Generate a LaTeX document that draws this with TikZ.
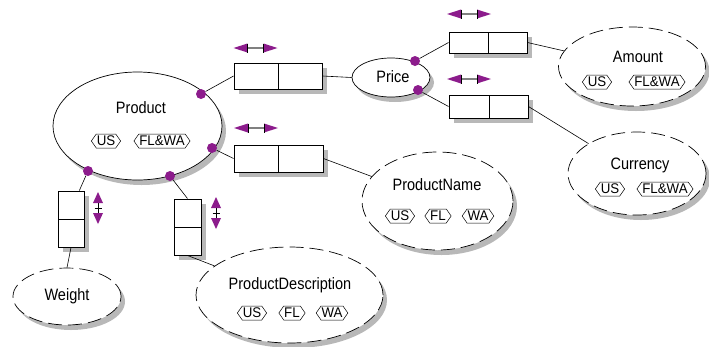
\documentclass[tikz,border=0pt]{standalone}
\usepackage{fontspec}
\setmainfont{Liberation Sans}
\newfontfamily\lblfont[FakeStretch=0.88]{Liberation Sans}
\newfontfamily\tagfont[FakeStretch=0.95]{Liberation Sans}
\usetikzlibrary{shapes.geometric,shapes.symbols}
\definecolor{pmag}{RGB}{140,28,140}
\colorlet{shgray}{black!28}
\tikzset{
  ent/.style={ellipse, draw, fill=white, line width=0.7pt, inner sep=0pt},
  attr/.style={ent, dash pattern=on 14pt off 6pt},
  cell/.style={rectangle, draw, fill=white, line width=0.9pt, inner sep=0pt},
  tag/.style={signal, signal to=west and east, signal pointer angle=110, draw,
    line width=0.5pt, inner sep=0.5pt, minimum height=14pt,
    font=\tagfont\fontsize{14pt}{14pt}\selectfont},
  lbl/.style={inner sep=0pt, font=\lblfont\fontsize{16.5pt}{16.5pt}\selectfont},
  dot/.style={circle, fill=pmag, inner sep=0pt, minimum size=10pt},
  link/.style={line width=0.6pt},
  hmove/.pic={
    \draw[line width=1.2pt, gray] (-8,0) -- (8,0);
    \fill[pmag] (-22,0) -- (-8,-4.5) -- (-8,4.5) -- cycle;
    \fill[pmag] (22,0) -- (8,-4.5) -- (8,4.5) -- cycle;
    \draw[line width=0.6pt] (-8,-4.5) -- (-8,4.5) (8,-4.5) -- (8,4.5);
  },
  vmove/.pic={
    \draw[line width=0.6pt] (0,-6) -- (0,6) (-3.5,0) -- (3.5,0);
    \fill[pmag] (0,-16) -- (-5,-5) -- (5,-5) -- cycle;
    \fill[pmag] (0,16) -- (-5,5) -- (5,5) -- cycle;
  },
}
% an oval with its grey offset shadow: #1 name, #2 style, #3 width, #4 height, #5 x, #6 y
\newcommand\ovalnode[6]{%
  \fill[shgray] (#5+4,#6+5) ellipse [x radius=#3/2*1pt, y radius=#4/2*1pt];
  \node[#2, minimum width=#3pt, minimum height=#4pt] (#1) at (#5,#6) {};}
% the grey shadow under a row of cells: #1 width, #2 height, #3 x, #4 y
\newcommand\cellshadow[4]{%
  \fill[shgray] (#3-#1/2+5,#4-#2/2+5) rectangle (#3+#1/2+5,#4+#2/2+5);}
\newcommand\cellbox[5]{%
  \node[cell, minimum width=#2pt, minimum height=#3pt] (#1) at (#4,#5) {};}
\begin{document}
\begin{tikzpicture}[x=1pt, y=-1pt]
\useasboundingbox (0,0) rectangle (709,346);

% entities and attributes
\ovalnode{prod}{ent}{169}{108}{137.5}{126}
\node[lbl] (prodt) at (141,108) {Product};
\node[tag] (produs) at (106,141) {US};
\node[tag] (prodfw) at (162,141) {FL\&WA};

\ovalnode{price}{ent}{78}{39}{391}{77.5}
\node[lbl] (pricet) at (393,77) {Price};

\ovalnode{amount}{attr}{147}{79}{632}{66.5}
\node[lbl] (amountt) at (638,57) {Amount};
\node[tag] (amountus) at (597,82) {US};
\node[tag] (amountfw) at (657,82) {FL\&WA};

\ovalnode{curr}{attr}{138}{83}{637}{173.5}
\node[lbl] (currt) at (640,165) {Currency};
\node[tag] (currus) at (610,189) {US};
\node[tag] (currfw) at (665,189) {FL\&WA};

\ovalnode{pname}{attr}{151}{98}{437.5}{201}
\node[lbl] (pnamet) at (437,185) {ProductName};
\node[tag] (pnameus) at (400,216) {US};
\node[tag] (pnamefl) at (438,216) {FL};
\node[tag] (pnamewa) at (478,216) {WA};

\ovalnode{pdesc}{attr}{187}{96}{289.5}{295}
\node[lbl] (pdesct) at (290,285) {ProductDescription};
\node[tag] (pdescus) at (252,313) {US};
\node[tag] (pdescfl) at (292,313) {FL};
\node[tag] (pdescwa) at (332,313) {WA};

\ovalnode{weight}{attr}{108}{57}{67}{296.5}
\node[lbl] (weightt) at (67,296) {Weight};

% relationship cells: shadows first, then the cells
\cellshadow{88}{26}{278}{76}
\cellshadow{78}{21}{488}{42.5}
\cellshadow{79}{23}{488.5}{106.5}
\cellshadow{89}{27}{278.5}{158.5}
\cellshadow{27}{56}{187.5}{227}
\cellshadow{26}{56}{71}{219}
\cellbox{pa}{44}{26}{256}{76}
\cellbox{pb}{44}{26}{300}{76}
\cellbox{aa}{39}{21}{468.5}{42.5}
\cellbox{ab}{39}{21}{507.5}{42.5}
\cellbox{ca}{40}{23}{469}{106.5}
\cellbox{cb}{39}{23}{508.5}{106.5}
\cellbox{na}{44}{27}{256}{158.5}
\cellbox{nb}{45}{27}{300.5}{158.5}
\cellbox{da}{27}{28}{187.5}{213}
\cellbox{db}{27}{28}{187.5}{241}
\cellbox{wa}{26}{28}{71}{205}
\cellbox{wb}{26}{28}{71}{233}

% connectors
\draw[link] (pb.east) -- (price.west);
\draw[link] (ab.east) -- (amount);
\draw[link] (cb.east) -- (curr);
\draw[link] (nb.east) -- (pname);
\draw[link] (db.south) -- (pdesc);
\draw[link] (wb.south) -- (weight.north);

% role markers
\node[dot] (d1) at (201,94) {};
\node[dot] (d2) at (212,148) {};
\node[dot] (d3) at (88,171) {};
\node[dot] (d4) at (170,176) {};
\node[dot] (d5) at (415,61) {};
\node[dot] (d6) at (418,90) {};
\draw[link] (d1) -- (pa.west);
\draw[link] (d2) -- (na.west);
\draw[link] (d3) -- (wa.60);
\draw[link] (d4) -- (da.north);
\draw[link] (d5) -- (aa.west);
\draw[link] (d6) -- (ca.west);

% reading direction arrows
\pic at (255.5,48) {hmove};
\pic at (469,14) {hmove};
\pic at (469,79) {hmove};
\pic at (256,128) {hmove};
\pic at (216,213) {vmove};
\pic at (98,208) {vmove};
\end{tikzpicture}
\end{document}
